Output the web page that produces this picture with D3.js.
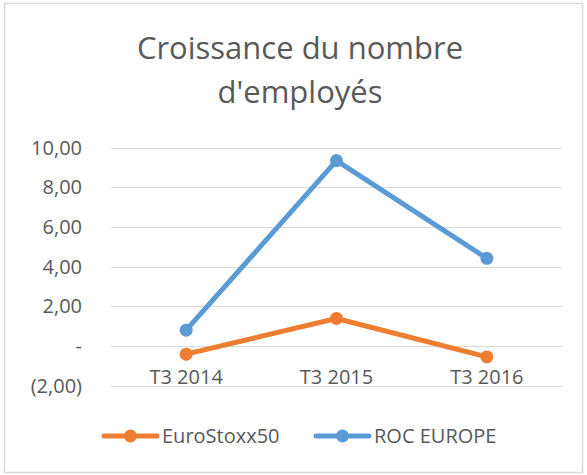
<!DOCTYPE html>
<html lang="fr">
<head>
<meta charset="UTF-8">
<title>Croissance du nombre d'employés</title>
<script src="https://cdnjs.cloudflare.com/ajax/libs/d3/7.8.5/d3.min.js"></script>
<style>
  body { margin: 0; background: #fff; }
  svg { display: block; }
</style>
</head>
<body>
<div id="chart"></div>
<script>
// data
var categories = ["T3 2014", "T3 2015", "T3 2016"];
var euroStoxx = [-0.42, 1.38, -0.56];
var rocEurope = [0.79, 9.34, 4.41];
var yTicks = [-2, 0, 2, 4, 6, 8, 10];

var w = 587, h = 475;
var font = "'Open Sans', 'Noto Sans', sans-serif";
var textColor = "#595959";

var svg = d3.select("#chart").append("svg")
    .attr("width", w)
    .attr("height", h);

// outer border of the chart area
svg.append("rect")
    .attr("x", 4.5).attr("y", 3.5)
    .attr("width", 578).attr("height", 469)
    .attr("fill", "#fff")
    .attr("stroke", "#d9d9d9")
    .attr("stroke-width", 1.5);

// title, two lines
var title = svg.append("text")
    .attr("text-anchor", "middle")
    .attr("font-family", font)
    .attr("font-size", "31px")
    .attr("fill", textColor);
title.append("tspan").attr("x", 300).attr("y", 59).text("Croissance du nombre");
title.append("tspan").attr("x", 300).attr("y", 103).text("d'employés");

var x = d3.scaleBand()
    .domain(categories)
    .range([111, 562]);

var y = d3.scaleLinear()
    .domain([-2, 10])
    .range([385.5, 147.5]);

function fmt(v) {
    if (v === 0) return "-";
    var s = d3.format(".2f")(Math.abs(v)).replace(".", ",");
    return v < 0 ? "(" + s + ")" : s;
}

// gridlines
svg.append("g")
    .selectAll("line")
    .data(yTicks)
    .enter()
    .append("line")
    .attr("x1", x.range()[0])
    .attr("x2", x.range()[1])
    .attr("y1", function (d) { return Math.round(y(d)) + 0.5; })
    .attr("y2", function (d) { return Math.round(y(d)) + 0.5; })
    .attr("stroke", "#d9d9d9")
    .attr("stroke-width", 1.2);

// y labels
svg.append("g")
    .selectAll("text")
    .data(yTicks)
    .enter()
    .append("text")
    .attr("x", 82)
    .attr("y", function (d) { return y(d); })
    .attr("dy", "0.36em")
    .attr("text-anchor", "end")
    .attr("font-family", font)
    .attr("font-size", "20px")
    .attr("fill", textColor)
    .text(fmt);

// category labels, just below the zero line
svg.append("g")
    .selectAll("text")
    .data(categories)
    .enter()
    .append("text")
    .attr("x", function (d) { return x(d) + x.bandwidth() / 2; })
    .attr("y", y(0) + 38)
    .attr("text-anchor", "middle")
    .attr("font-family", font)
    .attr("font-size", "20px")
    .attr("fill", textColor)
    .text(function (d) { return d; });

var series = [
    { name: "EuroStoxx50", values: euroStoxx, color: "#ed7d31" },
    { name: "ROC EUROPE", values: rocEurope, color: "#5b9bd5" }
];

var line = d3.line()
    .x(function (d, i) { return x(categories[i]) + x.bandwidth() / 2; })
    .y(function (d) { return y(d); });

series.forEach(function (s) {
    svg.append("path")
        .datum(s.values)
        .attr("d", line)
        .attr("fill", "none")
        .attr("stroke", s.color)
        .attr("stroke-width", 5)
        .attr("stroke-linejoin", "round")
        .attr("stroke-linecap", "round");

    svg.append("g")
        .selectAll("circle")
        .data(s.values)
        .enter()
        .append("circle")
        .attr("cx", function (d, i) { return x(categories[i]) + x.bandwidth() / 2; })
        .attr("cy", function (d) { return y(d); })
        .attr("r", 6.5)
        .attr("fill", s.color);
});

// legend
var legendX = [104, 316];
var legend = svg.append("g")
    .selectAll("g")
    .data(series)
    .enter()
    .append("g")
    .attr("transform", function (d, i) { return "translate(" + legendX[i] + ",436)"; });

legend.append("line")
    .attr("x1", 0).attr("x2", 53)
    .attr("stroke", function (d) { return d.color; })
    .attr("stroke-width", 5)
    .attr("stroke-linecap", "round");

legend.append("circle")
    .attr("cx", 26.5)
    .attr("r", 6.5)
    .attr("fill", function (d) { return d.color; });

legend.append("text")
    .attr("x", 58)
    .attr("dy", "0.36em")
    .attr("font-family", font)
    .attr("font-size", "20px")
    .attr("fill", textColor)
    .text(function (d) { return d.name; });
</script>
</body>
</html>
